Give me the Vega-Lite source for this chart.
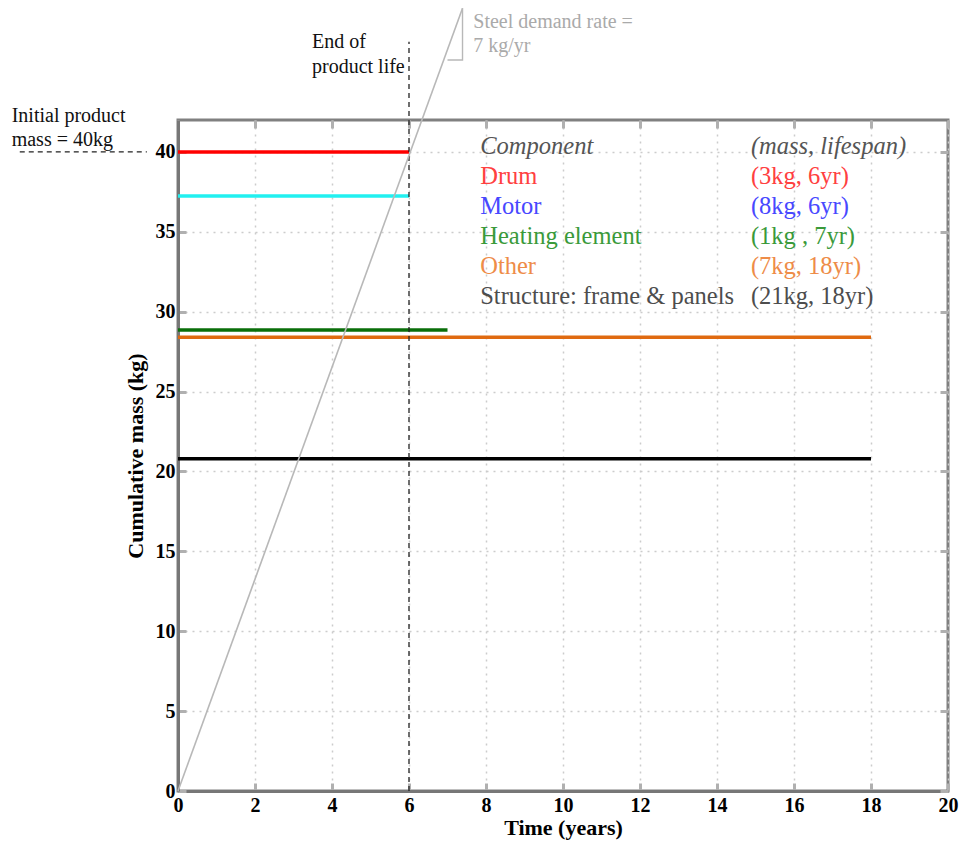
{
  "$schema": "https://vega.github.io/schema/vega-lite/v6.json",
  "autosize": {"type": "none"},
  "width": 770,
  "height": 671,
  "padding": {"left": 178, "top": 120, "right": 12, "bottom": 54},
  "background": "white",
  "config": {
    "view": {"stroke": "#808080", "strokeWidth": 3},
    "font": "Liberation Serif",
    "axis": {
      "labelFont": "Liberation Serif",
      "titleFont": "Liberation Serif",
      "labelFontWeight": "bold",
      "titleFontWeight": "bold",
      "labelFontSize": 20,
      "titleFontSize": 22,
      "labelColor": "black",
      "titleColor": "black",
      "domainColor": "#777777",
      "domainWidth": 3,
      "tickColor": "#b0b0b0",
      "tickWidth": 3,
      "tickSize": -8,
      "gridColor": "#cccccc",
      "gridDash": [2, 5],
      "gridWidth": 1.5
    }
  },
  "datasets": {
    "components": [
      {"component": "Drum", "x0": 0, "x1": 6, "mass": 40},
      {"component": "Motor", "x0": 0, "x1": 6, "mass": 37.25},
      {"component": "Heating element", "x0": 0, "x1": 7, "mass": 28.85},
      {"component": "Other", "x0": 0, "x1": 18, "mass": 28.4},
      {"component": "Structure", "x0": 0, "x1": 18, "mass": 20.8}
    ],
    "demand": [
      {"t": 0, "m": 0},
      {"t": 7.39, "m": 49.0}
    ],
    "triangle": [
      {"t": 7.0, "m": 45.76},
      {"t": 7.39, "m": 45.76},
      {"t": 7.39, "m": 49.0}
    ],
    "dashed": [
      {"x0": 6, "x1": 6, "y0": 0, "y1": 46.9},
      {"x0": -4.11, "x1": -0.81, "y0": 40, "y1": 40}
    ],
    "legendRows": [
      {"group": "Drum", "name": "Drum", "spec": "(3kg, 6yr)", "y": 38.44},
      {"group": "Motor", "name": "Motor", "spec": "(8kg, 6yr)", "y": 36.56},
      {"group": "Heating element", "name": "Heating element", "spec": "(1kg , 7yr)", "y": 34.68},
      {"group": "Other", "name": "Other", "spec": "(7kg, 18yr)", "y": 32.8},
      {"group": "Structure", "name": "Structure: frame & panels", "spec": "(21kg, 18yr)", "y": 30.92}
    ],
    "header": [
      {"label": "Component", "x": 7.85, "y": 40.3},
      {"label": "(mass, lifespan)", "x": 14.88, "y": 40.3}
    ],
    "notes": [
      {"label": "End of", "x": 3.48, "y": 46.9, "kind": "black"},
      {"label": "product life", "x": 3.48, "y": 45.32, "kind": "black"},
      {"label": "Initial product", "x": -4.32, "y": 42.25, "kind": "black"},
      {"label": "mass = 40kg", "x": -4.32, "y": 40.75, "kind": "black"},
      {"label": "Steel demand rate =", "x": 7.67, "y": 48.14, "kind": "gray"},
      {"label": "7 kg/yr", "x": 7.67, "y": 46.64, "kind": "gray"}
    ]
  },
  "layer": [
    {
      "data": {"name": "components"},
      "mark": {"type": "rule", "strokeWidth": 3.5},
      "encoding": {
        "x": {
          "field": "x0", "type": "quantitative",
          "scale": {"domain": [0, 20], "nice": false, "zero": false},
          "axis": {"orient": "bottom", "values": [0, 2, 4, 6, 8, 10, 12, 14, 16, 18, 20], "title": "Time (years)", "grid": true, "labelPadding": 12, "titlePadding": 2, "labelFlush": false}
        },
        "x2": {"field": "x1"},
        "y": {
          "field": "mass", "type": "quantitative",
          "scale": {"domain": [0, 42], "nice": false, "zero": false},
          "axis": {"orient": "left", "values": [0, 5, 10, 15, 20, 25, 30, 35, 40], "title": "Cumulative mass (kg)", "grid": true, "labelPadding": 11, "titlePadding": 8}
        },
        "color": {
          "field": "component", "type": "nominal", "legend": null,
          "scale": {"domain": ["Drum", "Motor", "Heating element", "Other", "Structure"], "range": ["#ff0000", "#22f0f0", "#0a6e0a", "#e06a10", "#000000"]}
        }
      }
    },
    {
      "data": {"name": "components"},
      "mark": {"type": "rule", "opacity": 0},
      "encoding": {
        "x": {"field": "x0", "type": "quantitative", "axis": {"orient": "top", "values": [0, 2, 4, 6, 8, 10, 12, 14, 16, 18, 20], "labels": false, "title": null, "grid": false, "domain": false}},
        "y": {"field": "mass", "type": "quantitative", "axis": {"orient": "right", "values": [0, 5, 10, 15, 20, 25, 30, 35, 40], "labels": false, "title": null, "grid": false, "domain": false}}
      }
    },
    {
      "data": {"name": "dashed"},
      "mark": {"type": "rule", "strokeDash": [5, 4], "strokeWidth": 1.3, "color": "#222222", "clip": false},
      "encoding": {
        "x": {"field": "x0", "type": "quantitative", "axis": null},
        "x2": {"field": "x1"},
        "y": {"field": "y0", "type": "quantitative", "axis": null},
        "y2": {"field": "y1"}
      }
    },
    {
      "data": {"name": "demand"},
      "mark": {"type": "line", "color": "#b8b8b8", "strokeWidth": 1.6, "clip": false},
      "encoding": {
        "x": {"field": "t", "type": "quantitative", "axis": null},
        "y": {"field": "m", "type": "quantitative", "axis": null}
      }
    },
    {
      "data": {"name": "triangle"},
      "mark": {"type": "line", "color": "#b8b8b8", "strokeWidth": 1.4, "clip": false},
      "encoding": {
        "x": {"field": "t", "type": "quantitative", "axis": null},
        "y": {"field": "m", "type": "quantitative", "axis": null},
        "order": {"field": "m", "type": "quantitative"}
      }
    },
    {
      "data": {"name": "header"},
      "mark": {"type": "text", "align": "left", "baseline": "middle", "fontSize": 24.5, "fontStyle": "italic", "font": "Liberation Serif", "color": "#555555"},
      "encoding": {
        "x": {"field": "x", "type": "quantitative", "axis": null},
        "y": {"field": "y", "type": "quantitative", "axis": null},
        "text": {"field": "label"}
      }
    },
    {
      "data": {"name": "legendRows"},
      "mark": {"type": "text", "align": "left", "baseline": "middle", "fontSize": 24.5, "font": "Liberation Serif"},
      "encoding": {
        "x": {"datum": 7.85, "type": "quantitative", "axis": null},
        "y": {"field": "y", "type": "quantitative", "axis": null},
        "text": {"field": "name"},
        "color": {"field": "group", "type": "nominal", "legend": null, "scale": {"domain": ["Drum", "Motor", "Heating element", "Other", "Structure"], "range": ["#ff4040", "#4848ff", "#3a9a3a", "#ee8c48", "#4d4d4d"]}}
      }
    },
    {
      "data": {"name": "legendRows"},
      "mark": {"type": "text", "align": "left", "baseline": "middle", "fontSize": 24.5, "font": "Liberation Serif"},
      "encoding": {
        "x": {"datum": 14.88, "type": "quantitative", "axis": null},
        "y": {"field": "y", "type": "quantitative", "axis": null},
        "text": {"field": "spec"},
        "color": {"field": "group", "type": "nominal", "legend": null, "scale": {"domain": ["Drum", "Motor", "Heating element", "Other", "Structure"], "range": ["#ff4040", "#4848ff", "#3a9a3a", "#ee8c48", "#4d4d4d"]}}
      }
    },
    {
      "data": {"name": "notes"},
      "mark": {"type": "text", "align": "left", "baseline": "middle", "fontSize": 20, "font": "Liberation Serif", "clip": false},
      "encoding": {
        "x": {"field": "x", "type": "quantitative", "axis": null},
        "y": {"field": "y", "type": "quantitative", "axis": null},
        "text": {"field": "label"},
        "color": {"field": "kind", "type": "nominal", "legend": null, "scale": {"domain": ["black", "gray"], "range": ["#111111", "#aaaaaa"]}}
      }
    }
  ],
  "resolve": {"scale": {"color": "independent"}}
}
